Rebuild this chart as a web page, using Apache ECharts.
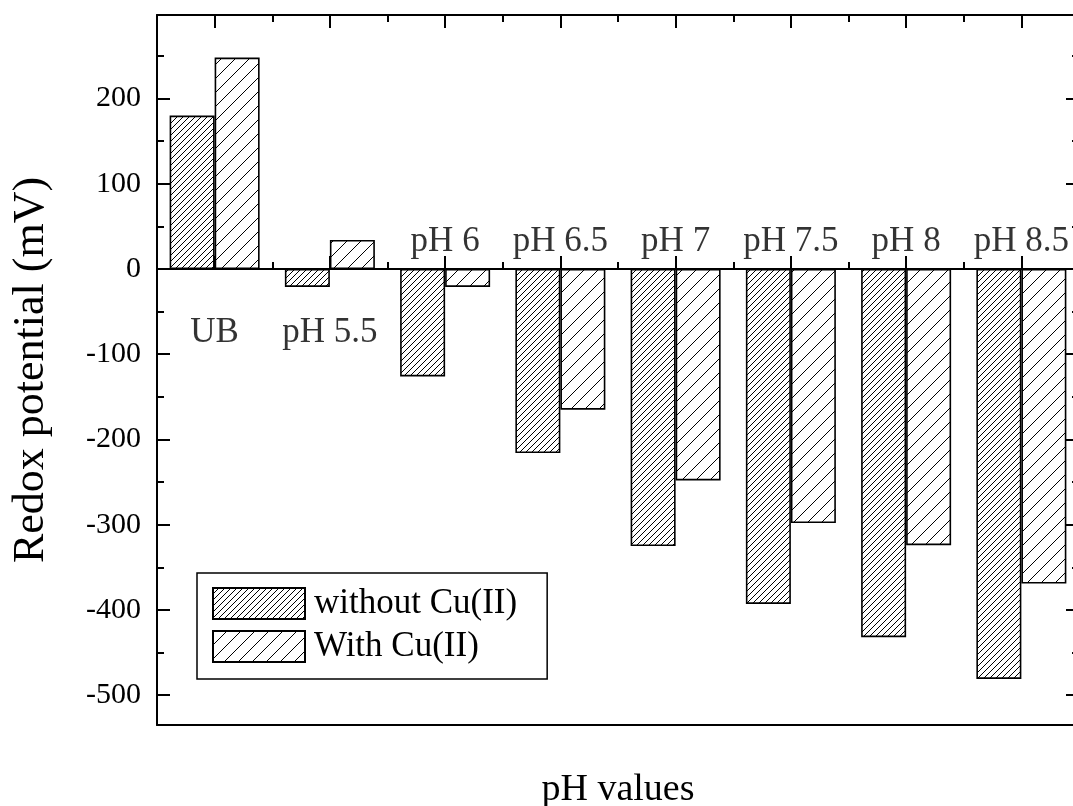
<!DOCTYPE html>
<html>
<head>
<meta charset="utf-8">
<script src="https://cdn.jsdelivr.net/npm/echarts@6/dist/echarts.min.js"></script>
<style>
  html, body { margin: 0; padding: 0; background: #fff; }
  #chart { width: 1073px; height: 806px; }
</style>
</head>
<body>
<div id="chart"></div>
<script>
// values
const categories = ['UB', 'pH 5.5', 'pH 6', 'pH 6.5', 'pH 7', 'pH 7.5', 'pH 8', 'pH 8.5'];
const withoutCu = [180, -21, -126, -216, -325, -393, -432, -481];
const withCu = [248, 34, -21, -165, -248, -298, -324, -369];
const yMajorTicks = [-500, -400, -300, -200, -100, 0, 100, 200];
const yMinorTicks = [-450, -350, -250, -150, -50, 50, 150, 250];
const yMin = -535;
const yMax = 298;

const FONT = '"Liberation Serif", "Times New Roman", serif';

// diagonal hatch tile, lines running lower-left to upper-right
function hatch(step, lw) {
  const c = document.createElement('canvas');
  c.width = step;
  c.height = step;
  const g = c.getContext('2d');
  g.strokeStyle = '#000';
  g.lineWidth = lw;
  g.beginPath();
  g.moveTo(-1, step + 1); g.lineTo(step + 1, -1);
  g.moveTo(-1, 1); g.lineTo(1, -1);
  g.moveTo(step - 1, step + 1); g.lineTo(step + 1, step - 1);
  g.stroke();
  return { image: c, repeat: 'repeat' };
}

const line = { show: true, lineStyle: { color: '#000', width: 2 } };
const noLine = { show: false };

// category axis copies: short ticks at the boundaries, long ones at the centres
function catAxis(position, onZero, tickLen, centred, showLine) {
  return {
    type: 'category',
    data: categories,
    position: position,
    axisLine: showLine
      ? { show: true, onZero: onZero, onZeroAxisIndex: 0, lineStyle: { color: '#000', width: 2 } }
      : { show: false, onZero: onZero, onZeroAxisIndex: 0 },
    axisTick: tickLen > 0
      ? { show: true, inside: true, length: tickLen, alignWithLabel: centred, lineStyle: { color: '#000', width: 2 } }
      : { show: false },
    axisLabel: { show: false },
    splitLine: { show: false }
  };
}

function valAxis(position, ticks, tickLen, labels, showLine) {
  return {
    type: 'value',
    min: yMin,
    max: yMax,
    position: position,
    axisLine: showLine ? line : noLine,
    axisTick: { show: true, inside: true, length: tickLen, customValues: ticks, lineStyle: { color: '#000', width: 2 } },
    axisLabel: labels
      ? { show: true, customValues: ticks, color: '#000', fontFamily: FONT, fontSize: 30, margin: 16 }
      : { show: false },
    splitLine: { show: false }
  };
}

const xAxes = [
  catAxis('bottom', true, 7, false, true),
  catAxis('bottom', true, 13, true, false),
  catAxis('top', false, 7, false, true),
  catAxis('top', false, 13, true, false),
  catAxis('bottom', false, 0, false, true)
];
xAxes[4].name = 'pH values';
xAxes[4].nameLocation = 'middle';
xAxes[4].nameGap = 46;
xAxes[4].nameTextStyle = { color: '#000', fontFamily: FONT, fontSize: 38 };

const yAxes = [
  valAxis('left', yMajorTicks, 13, true, true),
  valAxis('left', yMinorTicks, 7, false, false),
  valAxis('right', yMajorTicks, 13, false, true),
  valAxis('right', yMinorTicks, 7, false, false)
];
yAxes[0].name = 'Redox potential (mV)';
yAxes[0].nameLocation = 'middle';
yAxes[0].nameGap = 104;
yAxes[0].nameTextStyle = { color: '#000', fontFamily: FONT, fontSize: 44 };

// category names sit above the zero line unless a bar of that group rises above it
const labelPoints = categories.map((c, i) => {
  const up = withoutCu[i] > 0 || withCu[i] > 0;
  return {
    value: [c, 0],
    label: { position: up ? 'bottom' : 'top', distance: up ? 46 : 10 }
  };
});

const chart = echarts.init(document.getElementById('chart'), null, { renderer: 'canvas' });
chart.setOption({
  animation: false,
  backgroundColor: '#fff',
  grid: { left: 157, width: 922, top: 15, bottom: 81, containLabel: false, outerBoundsMode: 'none' },
  xAxis: xAxes,
  yAxis: yAxes,
  legend: {
    orient: 'vertical',
    left: 197,
    top: 573,
    icon: 'rect',
    itemWidth: 92,
    itemHeight: 31,
    itemGap: 8,
    padding: [13, 30, 15, 15],
    borderColor: '#000',
    borderWidth: 1.5,
    data: ['without Cu(II)', 'With Cu(II)'],
    textStyle: { color: '#000', fontFamily: FONT, fontSize: 35, padding: [0, 0, 0, 4] }
  },
  series: [
    {
      name: 'without Cu(II)',
      type: 'bar',
      data: withoutCu,
      barWidth: 45,
      barGap: '0%',
      itemStyle: { color: hatch(6, 1), borderColor: '#000', borderWidth: 1.6 }
    },
    {
      name: 'With Cu(II)',
      type: 'bar',
      data: withCu,
      barWidth: 45,
      barGap: '0%',
      itemStyle: { color: hatch(14, 1), borderColor: '#000', borderWidth: 1.6 }
    },
    {
      name: 'labels',
      type: 'scatter',
      data: labelPoints,
      symbolSize: 0,
      silent: true,
      z: 5,
      label: {
        show: true,
        formatter: (p) => p.value[0],
        color: '#000',
        fontFamily: FONT,
        fontSize: 35
      }
    }
  ]
});
</script>
</body>
</html>
